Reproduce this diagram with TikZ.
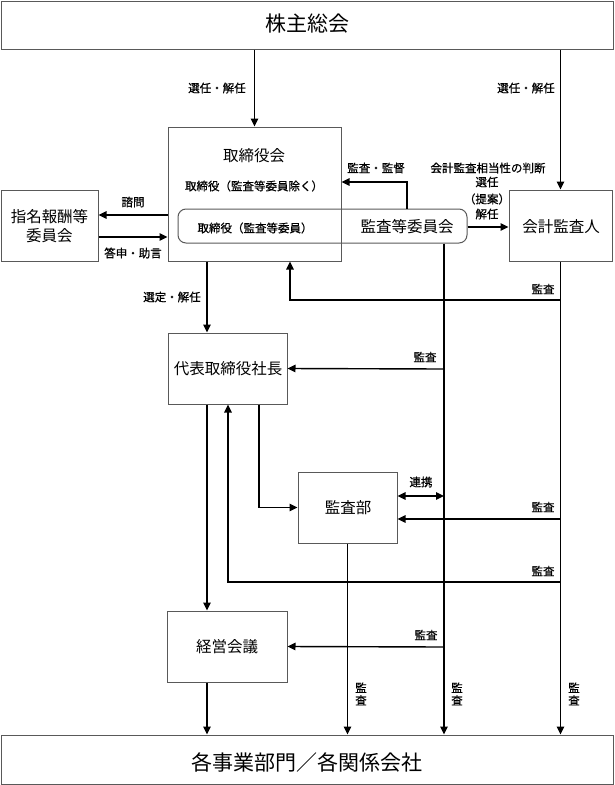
\documentclass[tikz,border=0pt]{standalone}
\usepackage{fontspec}
\newfontfamily\jp{Noto Sans CJK JP}
\newfontfamily\jpl[FakeBold=0.8]{Noto Sans CJK JP}
\usetikzlibrary{arrows.meta,calc}
\begin{document}
\begin{tikzpicture}[x=1pt,y=-1pt,
  every node/.style={font=\jp, inner sep=0pt},
  box/.style={draw=black!65, line width=1pt, fill=none},
  conn/.style={line width=1.4pt, draw=black},
  arr/.style={conn, -{Triangle[length=8pt,width=7.5pt]}},
  darr/.style={conn, {Triangle[length=8pt,width=7.5pt]}-{Triangle[length=8pt,width=7.5pt]}},
  big/.style={font=\jp\fontsize{21}{24}\selectfont},
  mid/.style={font=\jp\fontsize{15.5}{19}\selectfont},
  lab/.style={font=\jpl\fontsize{11.5}{14}\selectfont},
  vlab/.style={font=\jpl\fontsize{11.5}{12.5}\selectfont, align=center},
]
\useasboundingbox (0,0) rectangle (614,785);
% boxes
\node[box, minimum width=612pt, minimum height=48pt] (gm) at (307,25) {};
\node[big] (gmt) at (307,24) {株主総会};
\node[box, minimum width=173pt, minimum height=134pt] (board) at (254.5,194) {};
\node[mid] (boardt) at (254,156) {取締役会};
\node[lab] (boardx) at (254,186) {取締役（監査等委員除く）};
\node[box, minimum width=97pt, minimum height=71pt] (nom) at (49.5,225.5) {};
\node[mid, align=center] (nomt) at (49.5,226) {指名報酬等\\委員会};
\node[box, rounded corners=8pt, minimum width=289pt, minimum height=34pt] (ac) at (322.5,226) {};
\node[lab] (acm) at (255,228) {取締役（監査等委員）};
\node[mid] (act) at (407,227) {監査等委員会};
\node[box, minimum width=103pt, minimum height=71pt] (aud) at (560.5,225.5) {};
\node[mid] (audt) at (561,227) {会計監査人};
\node[box, minimum width=119pt, minimum height=71pt] (pres) at (227.5,368.5) {};
\node[mid] (prest) at (228,369) {代表取締役社長};
\node[box, minimum width=99pt, minimum height=71pt] (iad) at (347.5,507.5) {};
\node[mid] (iadt) at (348,508) {監査部};
\node[box, minimum width=120pt, minimum height=71pt] (mgmt) at (227,646.5) {};
\node[mid] (mgmtt) at (227,647) {経営会議};
\node[box, minimum width=612pt, minimum height=49pt] (bot) at (307,759.5) {};
\node[big] (bott) at (307,762) {各事業部門／各関係会社};
% connectors
\draw[arr] (board.north |- gm.south) -- (board.north);
\draw[arr] (aud.north |- gm.south) -- (aud.north);
\draw[arr] (board.west |- 0,215) -- (nom.east |- 0,215);
\draw[arr] (nom.east |- 0,237) -- (board.west |- 0,237);
\draw[arr] (ac.north -| 407,0) |- (board.east |- 0,182);
\draw[arr] (ac.east |- 0,227) -- (aud.west |- 0,227);
\draw[arr] (board.south -| 207,0) -- (pres.north -| 207,0);
\draw[arr] (aud.south) -- (bot.north -| aud.south);
\draw[arr] (aud.south |- 0,300) -| (board.south -| 290,0);
\draw[arr] (aud.south |- 0,519) -- (iad.east |- 0,519);
\draw[arr] (aud.south |- 0,582) -| (pres.south -| 228,0);
\draw[arr] (ac.south -| 444,0) -- (bot.north -| 444,0);
\draw[arr] (444,369) -- (pres.east);
\draw[arr] (444,647) -- (mgmt.east);
\draw[darr] (iad.east |- 0,496) -- (444,496);
\draw[arr] (pres.south -| 207,0) -- (mgmt.north -| 207,0);
\draw[arr] (pres.south -| 259,0) |- (iad.west);
\draw[arr] (mgmt.south -| 207,0) -- (bot.north -| 207,0);
\draw[arr] (iad.south) -- (bot.north -| iad.south);
% labels
\node[lab] (l1) at (217,88) {選任・解任};
\node[lab] (l2) at (526,88) {選任・解任};
\node[lab] (l3) at (133,202) {諮問};
\node[lab] (l4) at (133,253) {答申・助言};
\node[lab] (l5) at (376,168) {監査・監督};
\node[lab] (l6) at (488,168) {会計監査相当性の判断};
\node[lab] (l7) at (487,182) {選任};
\node[lab] (l8) at (487,199) {（提案）};
\node[lab] (l9) at (487,214) {解任};
\node[lab] (l10) at (172,297) {選定・解任};
\node[lab] (l11) at (543,289) {監査};
\node[lab] (l12) at (425,357) {監査};
\node[lab] (l13) at (421,482) {連携};
\node[lab] (l14) at (543,507) {監査};
\node[lab] (l15) at (543,571) {監査};
\node[lab] (l16) at (426,635) {監査};
\node[vlab] (v1) at (361,694) {監\\査};
\node[vlab] (v2) at (457,694) {監\\査};
\node[vlab] (v3) at (574,694) {監\\査};
\end{tikzpicture}
\end{document}
